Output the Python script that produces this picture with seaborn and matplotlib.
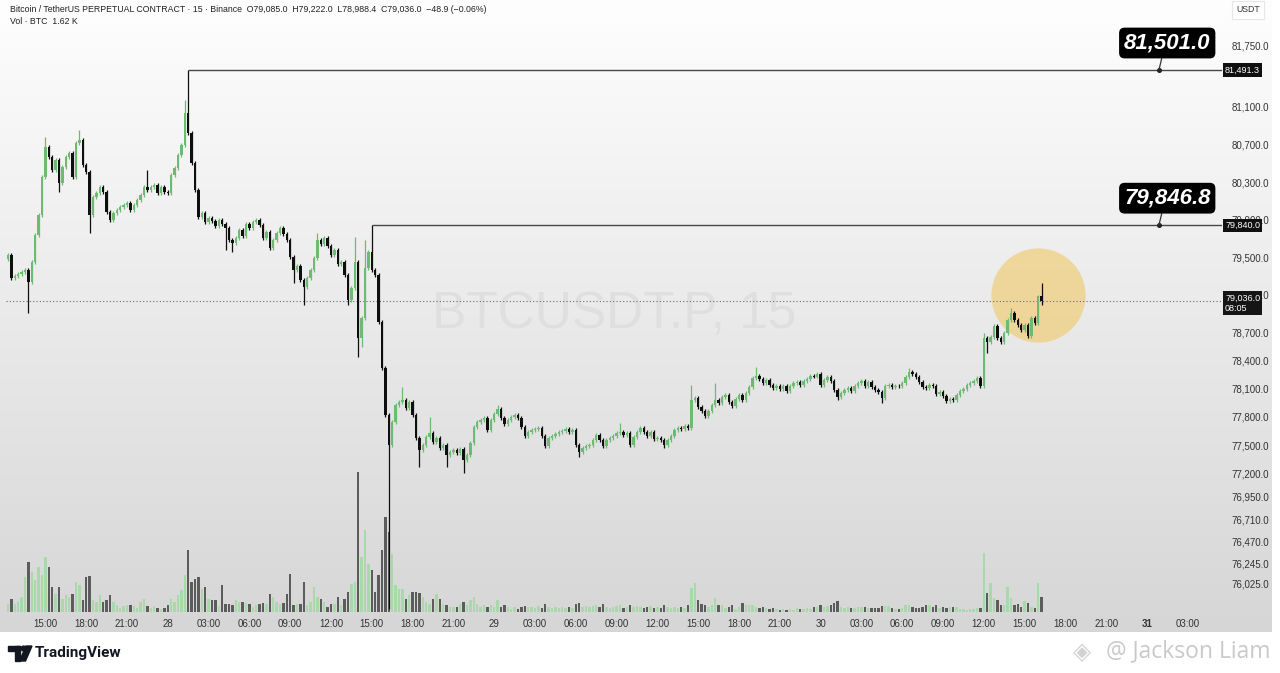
import numpy as np
import pandas as pd
import matplotlib
matplotlib.use("Agg")
import matplotlib.pyplot as plt
import matplotlib.transforms as mtransforms
from matplotlib.colors import LinearSegmentedColormap
from matplotlib.patches import Rectangle, Circle, Polygon
import seaborn as sns

# BTCUSDT.P 15-minute candles from 27 Mar 12:15 to 30 Mar 16:15
start_time = "2025-03-27 12:15"
first_open = 79480
closes = [
    79524,
    79279, 79300, 79321, 79343, 79364, 79237, 79449, 79736, 79949, 80354,
    80673, 80566, 80428, 80534, 80290, 80460, 80566, 80609, 80354, 80715, 80747, 80481,
    80407, 79949, 80141, 80183, 80248, 80194, 79981, 79896, 79970, 80002, 80035, 80056,
    80077, 80002, 80056, 80109, 80162, 80248, 80215, 80248, 80269, 80183, 80248, 80194,
    80183, 80375, 80449, 80588, 80694, 81034, 80822, 80502, 80215, 79928, 79970, 79875,
    79917, 79885, 79832, 79896, 79853, 79811, 79683, 79651, 79704, 79789, 79725, 79853,
    79811, 79875, 79896, 79843, 79704, 79768, 79598, 79683, 79757, 79811, 79747, 79683,
    79503, 79364, 79406, 79258, 79184, 79279, 79364, 79492, 79683, 79641, 79704, 79619,
    79524, 79577, 79428, 79449, 79311, 79045, 79173, 79449, 78641, 78853, 79385, 79556,
    79364, 79311, 78811, 78321, 77821, 77502, 77747, 77928, 77960, 77981, 77896, 77960,
    77821, 77577, 77449, 77502, 77587, 77630, 77534, 77577, 77470, 77502, 77396, 77428,
    77449, 77417, 77460, 77342, 77396, 77523, 77694, 77747, 77768, 77789, 77662, 77768,
    77832, 77885, 77789, 77726, 77768, 77800, 77821, 77789, 77694, 77598, 77640, 77662,
    77672, 77683, 77598, 77491, 77577, 77598, 77619, 77640, 77651, 77672, 77640, 77662,
    77502, 77428, 77470, 77491, 77502, 77555, 77609, 77555, 77491, 77555, 77577, 77598,
    77630, 77640, 77609, 77630, 77502, 77587, 77640, 77683, 77640, 77598, 77640, 77566,
    77577, 77555, 77502, 77555, 77598, 77662, 77683, 77672, 77704, 77683, 77981, 78002,
    77906, 77864, 77811, 77864, 77928, 77981, 77949, 78013, 78034, 77960, 77917, 77992,
    78034, 77981, 78055, 78119, 78215, 78236, 78204, 78162, 78194, 78141, 78109, 78130,
    78098, 78130, 78077, 78130, 78162, 78172, 78141, 78183, 78204, 78236, 78228, 78257,
    78141, 78194, 78226, 78183, 78087, 78013, 78055, 78087, 78109, 78077, 78130, 78162,
    78183, 78130, 78172, 78119, 78087, 78066, 78002, 78130, 78141, 78119, 78130, 78125,
    78162, 78226, 78279, 78257, 78226, 78172, 78119, 78109, 78141, 78130, 78045, 78066,
    78023, 77970, 77992, 77981, 78034, 78077, 78098, 78141, 78162, 78183, 78215, 78130,
    78641, 78598, 78651, 78768, 78641, 78598, 78694, 78832, 78906, 78832, 78779, 78726,
    78779, 78662, 78853, 78800, 79085, 79036,
]
# long wicks (candle index -> price)
wick_highs = {11: 80779, 21: 80854, 41: 80428, 52: 81173, 53: 81491.3, 91: 79757,
              102: 79715, 105: 79683, 107: 79840.0, 116: 78119, 124: 77800,
              144: 77928, 180: 77736, 201: 78141, 208: 78162, 220: 78332,
              265: 78321, 287: 78694, 295: 78960, 304: 79222.0}
wick_lows = {6: 78906, 15: 80194, 24: 79757, 64: 79577, 66: 79556, 84: 79226,
             87: 78992, 100: 78992, 103: 78438, 104: 78545, 112: 75760,
             121: 77268, 129: 77268, 134: 77204, 168: 77374, 193: 77470,
             244: 77981, 257: 77949, 276: 77949, 288: 78481, 304: 78988.4}
# volume, thousands of BTC
volumes_k = [
    0.86, 1.40, 0.86, 1.08, 1.62, 3.78, 5.40, 4.32, 3.46, 4.86,
    4.00, 5.94, 4.86, 2.70, 1.94, 2.70, 1.40, 1.84, 1.62, 1.94,
    3.24, 2.92, 1.30, 3.78, 3.89, 1.30, 1.08, 1.84, 1.08, 1.30,
    1.84, 1.08, 0.76, 0.43, 0.65, 0.76, 0.76, 0.65, 0.43, 1.08,
    1.40, 0.65, 0.43, 0.65, 0.43, 0.32, 0.43, 0.76, 1.40, 1.08,
    1.84, 2.38, 4.00, 6.70, 3.24, 3.56, 3.78, 2.48, 2.70, 1.40,
    1.30, 1.30, 0.65, 2.92, 0.86, 0.86, 0.76, 1.30, 1.08, 1.08,
    0.97, 0.86, 0.54, 0.76, 0.86, 0.97, 0.86, 1.94, 1.62, 1.08,
    0.86, 0.97, 1.94, 4.10, 0.76, 0.86, 0.86, 3.24, 0.76, 1.08,
    2.70, 1.62, 1.40, 1.08, 0.54, 0.86, 0.86, 1.62, 0.76, 1.40,
    2.16, 3.02, 3.24, 15.12, 5.94, 8.86, 5.18, 4.54, 2.16, 4.00,
    6.70, 10.26, 8.64, 6.26, 2.92, 2.48, 2.48, 1.40, 1.84, 2.16,
    2.16, 2.05, 1.62, 1.08, 0.86, 1.40, 1.94, 1.40, 0.86, 0.76,
    0.54, 0.54, 0.54, 0.86, 1.08, 0.76, 1.30, 1.62, 0.86, 0.54,
    0.76, 0.54, 0.76, 0.54, 1.30, 0.54, 0.76, 0.54, 0.32, 0.54,
    0.32, 0.54, 0.65, 0.54,
    0.54, 0.43, 0.65, 0.43, 0.86, 0.54, 0.43, 0.54, 0.43, 0.54,
    0.43, 0.54, 0.43, 0.86, 0.97, 0.54, 0.65, 0.54, 0.65, 0.76,
    0.54, 0.86, 0.54, 0.43, 0.54, 0.65, 0.76, 0.43, 0.54, 0.76,
    0.54, 0.65, 0.54, 0.43, 0.54, 0.65, 0.43, 0.54, 0.43, 0.76,
    0.54, 0.43, 0.54, 0.43, 0.54, 0.43, 0.76, 2.59, 3.13, 1.30,
    0.86, 0.76, 0.54, 0.76, 1.51, 0.76, 0.76, 0.43, 0.54, 0.76,
    0.32, 0.54, 0.97, 0.76, 0.76, 0.76, 0.54, 0.43, 0.54, 0.43,
    0.32, 0.43, 0.32, 0.22, 0.32, 0.22, 0.32, 0.22, 0.43, 0.32,
    0.32, 0.43, 0.32, 0.54, 0.54, 0.76, 0.54, 0.65, 0.76, 0.97,
    1.19, 0.54, 0.43, 0.54, 0.43, 0.43, 0.54, 0.54, 0.54, 0.43,
    0.43, 0.43, 0.43, 0.65, 0.65, 0.65, 0.43, 0.32, 0.32, 0.43,
    0.76, 0.76, 0.54, 0.43, 0.43, 0.54, 0.76, 0.76, 0.54, 0.76,
    0.43, 0.54, 0.43, 0.54, 0.54, 0.54, 0.32, 0.32, 0.22, 0.32,
    0.32, 0.43, 0.43, 6.37, 2.05, 3.13, 1.51, 1.30, 0.76, 0.76,
    2.70, 1.51, 0.76, 0.86, 0.54, 1.19, 0.97, 0.54, 0.43, 3.13,
    1.62,
]
assert len(closes) == len(volumes_k), (len(closes), len(volumes_k))

price_ticks = [81750, 81100, 80700, 80300, 79900, 79500, 79100, 78700, 78400,
               78100, 77800, 77500, 77200, 76950, 76710, 76470, 76245, 76025]
tick_labels = ["15:00", "18:00", "21:00", "28", "03:00", "06:00", "09:00", "12:00",
               "15:00", "18:00", "21:00", "29", "03:00", "06:00", "09:00", "12:00",
               "15:00", "18:00", "21:00", "30", "03:00", "06:00", "09:00", "12:00",
               "15:00", "18:00", "21:00", "31", "03:00"]
tick_times = pd.date_range("2025-03-27 15:00", periods=len(tick_labels), freq="3h")
level_idx = [53, 107]
level_price = [81491.3, 79840.0]
level_labels = ["81,491.3", "79,840.0"]
callout_labels = ["81,501.0", "79,846.8"]

sns.set_theme(style="white")
plt.rcParams["font.family"] = ["Liberation Sans", "DejaVu Sans"]

up_col, down_col = "#6dbb73", "#0e0e0e"
vol_up, vol_down = "#a9d9ab", "#5c5c5c"

x = np.arange(len(closes))
c = np.array(closes, float)
o = np.r_[first_open, c[:-1]]
up = c >= o
hi = np.maximum(o, c) + 18
lo = np.minimum(o, c) - 18
for k, v in wick_highs.items():
    hi[k] = v
for k, v in wick_lows.items():
    lo[k] = v
cols = np.where(up, up_col, down_col)
t0 = pd.Timestamp(start_time)
tick_pos = (tick_times - t0) / pd.Timedelta("15min")

W, H = 1280, 673
def box(x0, y0, x1, y1):
    return [x0 / W, 1 - y1 / H, (x1 - x0) / W, (y1 - y0) / H]

fig = plt.figure(figsize=(12.8, 6.73), dpi=100)

# gradient backdrop like the TradingView pane
bg = fig.add_axes(box(0, 0, 1272, 632), zorder=0)
bg_cmap = LinearSegmentedColormap.from_list("bg", ["#fefefe", "#d6d6d6"])
bg.imshow(np.linspace(0, 1, 256)[:, None], cmap=bg_cmap, aspect="auto", extent=(0, 1, 0, 1))
bg.axis("off")

ax = fig.add_axes(box(6, 5, 1222, 612))
ax2 = ax.twinx()
ax.set_zorder(2)
ax2.set_zorder(1)
ax.patch.set_visible(False)
ax2.patch.set_visible(False)

# volume
vol_df = pd.DataFrame({"idx": x, "vol": volumes_k, "dir": np.where(up, "up", "down")})
sns.barplot(data=vol_df, x="idx", y="vol", hue="dir", palette={"up": vol_up, "down": vol_down},
            native_scale=True, dodge=False, width=0.72, saturation=1, errorbar=None,
            legend=False, linewidth=0, ax=ax2)
ax2.set_ylim(0, 15.12 * 607 / 140)
ax2.set_yticks([])
ax2.set(xlabel="", ylabel="")

# candles
ax.vlines(x, lo, hi, colors=cols, lw=0.9, zorder=4)
ax.bar(x, np.maximum(np.abs(c - o), 10), bottom=np.minimum(o, c), width=0.76,
       color=cols, linewidth=0, zorder=5)

xmax = 357.06
ax.set_xlim(-0.59, xmax)
ax2.set_xlim(-0.59, xmax)
ax.set_ylim(75725, 82184)

# watermark + highlight
ax.text(0.5, 0.49, "BTCUSDT.P, 15", transform=ax.transAxes, ha="center", va="center",
        fontsize=37, color="#dfdfdf", zorder=1)
ax.scatter([303], [79098], s=4600, color="#f1c865", alpha=0.6, lw=0, zorder=2)

# last price
ax.axhline(c[-1], color="#6a6a6a", lw=0.8, ls=(0, (1, 2)), zorder=3)

blend = mtransforms.blended_transform_factory(ax.transAxes, ax.transData)
for k, p, lab, call in zip(level_idx, level_price, level_labels, callout_labels):
    ax.hlines(p, k, xmax, color="#474747", lw=1, zorder=6)
    ax.text(1.0025, p, lab, transform=blend, ha="left", va="center", fontsize=6.5,
            color="white", zorder=10, clip_on=False,
            bbox=dict(boxstyle="square,pad=0.25", fc="#101010", ec="none"))
    ax.plot([338.5], [p], "o", ms=2.6, color="#222", zorder=8)
    ax.annotate(call, xy=(338.5, p), xytext=(6, 19.5), textcoords="offset points",
                ha="center", va="center", fontsize=16, fontweight="bold", style="italic",
                color="white", zorder=9, annotation_clip=False,
                bbox=dict(boxstyle="round,pad=0.22,rounding_size=0.25", fc="black", ec="none"),
                arrowprops=dict(arrowstyle="-", color="#333", lw=0.9, shrinkA=0, shrinkB=0,
                                relpos=(0.45, 0)))
ax.text(1.0025, c[-1] - 25, "79,036.0\n08:05", transform=blend, ha="left", va="center",
        fontsize=6.5, color="white", linespacing=1.15, zorder=10, clip_on=False,
        bbox=dict(boxstyle="square,pad=0.25", fc="#151515", ec="none"))

# axes cosmetics
ax.yaxis.tick_right()
ax.set_yticks(price_ticks, [f"{v:,.1f}" for v in price_ticks])
ax.set_xticks(tick_pos, tick_labels)
ax.tick_params(axis="y", length=0, pad=7, labelsize=7, labelcolor="#333")
ax.tick_params(axis="x", length=0, pad=5, labelsize=7, labelcolor="#333")
for t in ax.get_xticklabels():
    if t.get_text() == "31":
        t.set_fontweight("bold")
ax.grid(False)
for a in (ax, ax2):
    for s in a.spines.values():
        s.set_visible(False)

# fixed decorations in pixel space
ov = fig.add_axes([0, 0, 1, 1], zorder=3)
ov.set_xlim(0, W)
ov.set_ylim(H, 0)
ov.axis("off")
ov.patch.set_visible(False)
ov.text(10, 10, "Bitcoin / TetherUS PERPETUAL CONTRACT · 15 · Binance  O79,085.0  H79,222.0  "
        "L78,988.4  C79,036.0  \u221248.9 (\u22120.06%)", fontsize=6.3, color="#222",
        va="center", ha="left")
ov.text(10, 22, "Vol · BTC  1.62 K", fontsize=6.3, color="#222", va="center", ha="left")
ov.text(1248, 10, "USDT", fontsize=6.3, color="#333", ha="center", va="center",
        bbox=dict(boxstyle="square,pad=0.5", fc="white", ec="#e6e6e6", lw=0.8))

ov.add_patch(Rectangle((8, 646), 12, 4.5, color="#131722"))
ov.add_patch(Rectangle((15, 646), 5, 15, color="#131722"))
ov.add_patch(Circle((23.5, 648.5), 2.4, color="#131722"))
ov.add_patch(Polygon([(26, 646), (32, 646), (25.5, 661), (19.5, 661)], color="#131722"))
ov.text(35, 653.5, "TradingView", fontsize=11, fontweight="bold", color="#131722",
        family=["Roboto", "DejaVu Sans"], ha="left", va="center")
ov.text(1082, 652, "\u25c8", fontsize=17, color="#d2d2d2", ha="center", va="center",
        family=["DejaVu Sans"])
ov.text(1270, 651, "@ Jackson Liam", fontsize=16.5, color="#c9c9c9", ha="right", va="center",
        family=["Open Sans", "DejaVu Sans"])

fig.savefig("out.png", dpi=100)
